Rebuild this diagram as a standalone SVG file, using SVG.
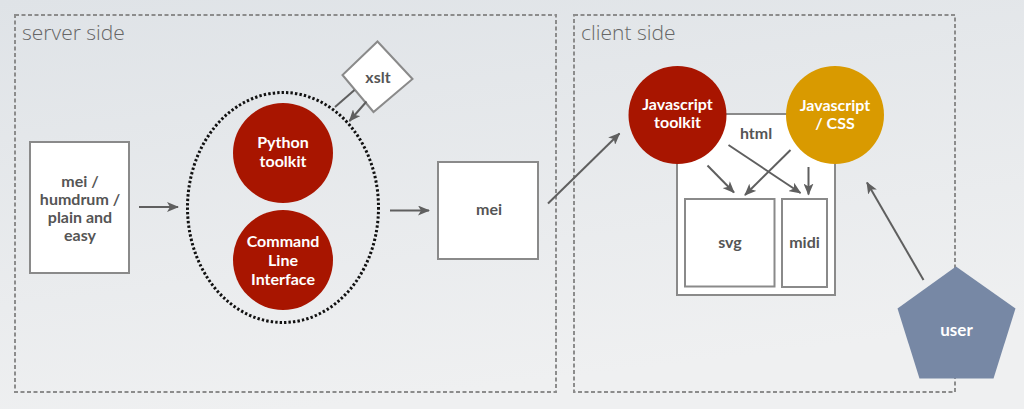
<svg xmlns="http://www.w3.org/2000/svg" width="1024" height="409" viewBox="0 0 1024 409">
<defs>
  <linearGradient id="bg" x1="0" y1="0" x2="0.3" y2="1">
    <stop offset="0" stop-color="#dfe3e7"/>
    <stop offset="1" stop-color="#eff0f1"/>
  </linearGradient>
  <marker id="ah" markerUnits="userSpaceOnUse" markerWidth="12" markerHeight="10" viewBox="0 0 12 10" refX="11" refY="5" orient="auto">
    <path d="M0,0 L12,5 L0,10 L3,5 z" fill="#5f5f5f"/>
  </marker>
  <style>
    .zone{fill:none;stroke:#8c8c8c;stroke-width:2;stroke-dasharray:4 2.5}
    .zlabel{font-family:"Open Sans","Liberation Sans",sans-serif;font-weight:300;font-size:21px;fill:#666}
    .box{fill:#fff;stroke:#8a8a8a;stroke-width:2}
    .t{font-family:Lato,"Liberation Sans",sans-serif;font-weight:700;font-size:16px;fill:#555;text-anchor:middle}
    .w{fill:#fff}
    .red{fill:#a81500}
    .orange{fill:#d99a00}
    .conn{stroke:#5f5f5f;stroke-width:2;fill:none}
  </style>
</defs>
<rect width="1024" height="409" fill="url(#bg)"/>

<g id="server-side">
  <rect class="zone" x="15" y="15" width="541" height="377"/>
  <text class="zlabel" x="22" y="40">server side</text>
</g>
<g id="client-side">
  <rect class="zone" x="574" y="15" width="381" height="377"/>
  <text class="zlabel" x="581" y="40">client side</text>
</g>

<g id="input">
  <rect class="box" x="30" y="142" width="99" height="131"/>
  <text class="t" x="80" y="187">mei /</text>
  <text class="t" x="80" y="205">humdrum /</text>
  <text class="t" x="80" y="223">plain and</text>
  <text class="t" x="80" y="241">easy</text>
</g>

<g id="toolkit-group">
  <ellipse cx="283" cy="207.5" rx="95.5" ry="115" fill="none" stroke="#111" stroke-width="3" stroke-dasharray="2.4 2.1"/>
</g>

<g id="python-toolkit">
  <circle class="red" cx="283" cy="153" r="50"/>
  <text class="t w" x="283" y="148">Python</text>
  <text class="t w" x="283" y="167">toolkit</text>
</g>

<g id="cli">
  <circle class="red" cx="283" cy="260" r="50"/>
  <text class="t w" x="283" y="247">Command</text>
  <text class="t w" x="283" y="266">Line</text>
  <text class="t w" x="283" y="285">Interface</text>
</g>

<g id="xslt">
  <polygon points="377.5,41.5 412.5,79 373.5,112 342.5,75" fill="#fff" stroke="#8a8a8a" stroke-width="2"/>
  <text class="t" x="378" y="83">xslt</text>
</g>

<g id="mei">
  <rect class="box" x="438" y="162" width="100" height="97"/>
  <text class="t" x="489" y="215">mei</text>
</g>

<g id="html">
  <rect class="box" x="677" y="114" width="158" height="181"/>
  <text class="t" x="756" y="139">html</text>
</g>

<g id="js-toolkit">
  <circle class="red" cx="677.5" cy="115" r="49"/>
  <text class="t w" x="677.5" y="110">Javascript</text>
  <text class="t w" x="677.5" y="128">toolkit</text>
</g>

<g id="js-css">
  <circle class="orange" cx="835" cy="115" r="49"/>
  <text class="t w" x="835" y="111">Javascript</text>
  <text class="t w" x="835" y="129">/ CSS</text>
</g>

<g id="svg">
  <rect class="box" x="685" y="199" width="89.5" height="87.5"/>
  <text class="t" x="730" y="248">svg</text>
</g>

<g id="midi">
  <rect class="box" x="782" y="199" width="45" height="88"/>
  <text class="t" x="804.5" y="248">midi</text>
</g>

<g id="user">
  <polygon points="956,266.5 1015.5,308.5 993.5,378.5 919.5,378.5 897.5,308.5" fill="#7788a5"/>
  <text class="t w" x="956.5" y="336" style="font-size:17px">user</text>
</g>

<g id="connectors">
  <line class="conn" x1="139" y1="207" x2="178" y2="207" marker-end="url(#ah)"/>
  <line class="conn" x1="390" y1="210.5" x2="429" y2="210.5" marker-end="url(#ah)"/>
  <line class="conn" x1="354.5" y1="90" x2="335" y2="107"/>
  <line class="conn" x1="366.5" y1="101.5" x2="349.5" y2="121" marker-end="url(#ah)"/>
  <line class="conn" x1="548" y1="203.5" x2="619.5" y2="133.5" marker-end="url(#ah)"/>
  <line class="conn" x1="707.5" y1="165.5" x2="734" y2="192.5" marker-end="url(#ah)"/>
  <line class="conn" x1="728.5" y1="145" x2="800.5" y2="193" marker-end="url(#ah)"/>
  <line class="conn" x1="790.5" y1="150" x2="745" y2="195" marker-end="url(#ah)"/>
  <line class="conn" x1="808.5" y1="167" x2="808.5" y2="194.5" marker-end="url(#ah)"/>
  <line class="conn" x1="923.5" y1="280" x2="867" y2="182.5" marker-end="url(#ah)"/>
</g>
</svg>
